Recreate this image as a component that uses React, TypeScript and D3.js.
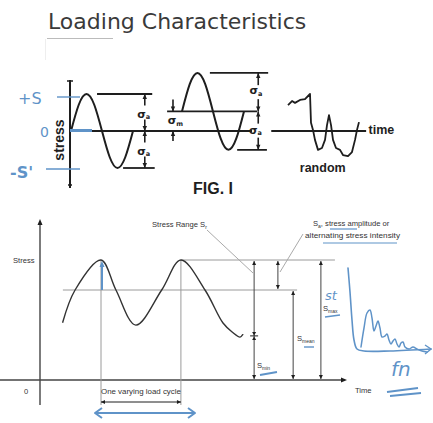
import React from "react";
import * as d3 from "d3";

// ---------------- FIG. 1 (top panel) ----------------
// one idealised load cycle (time in cycles, stress in units of σa)
const cycleTime = [0, 0.125, 0.25, 0.375, 0.5, 0.625, 0.75, 0.875, 1];
const cycleStress = [0, 0.71, 1, 0.71, 0, -0.71, -1, -0.71, 0];
// fully reversed wave and wave with a mean stress
const reversedWave = { start: 0, mean: 0, amp: 1 };
const meanWave = { start: 1.79, mean: 0.53, amp: 1.04 };
// random loading trace
const randomTime = [3.5, 3.565, 3.613, 3.694, 3.774, 3.855, 3.871, 3.903, 3.935, 3.984, 4.048, 4.097, 4.129, 4.161, 4.194, 4.226, 4.274, 4.339, 4.387, 4.468, 4.532, 4.581, 4.613, 4.645];
const randomStress = [0.7, 0.81, 0.76, 0.84, 0.86, 1.0, 0.22, 0.03, -0.24, -0.51, -0.46, -0.24, 0.16, 0.43, 0.16, -0.24, -0.46, -0.51, -0.65, -0.68, -0.57, -0.24, 0.03, 0.24];

// ---------------- bottom panel ----------------
const loadTime = [0.74, 1.15, 2.0, 2.49, 3.14, 3.99, 4.62, 5.41, 6.0, 6.3, 6.56, 6.66];
const loadStress = [1.91, 3, 4, 3, 1.83, 3, 4, 3, 1.9, 1.6, 1.43, 1.53];
const stressMax = 4;
const stressMean = 3;
const stressMinTick = 1.47;
const cycleStartT = 2.0;
const cycleEndT = 4.62;

// hand-drawn blue sketch (bottom right), page units
const sketchAxisX = [348, 350, 352, 354, 357, 364, 390, 431];
const sketchAxisY = [268, 292, 320, 340, 349, 351, 351, 349];
const sketchWiggleX = [361, 364, 367, 370, 372, 374, 376, 378, 380, 382, 385, 387, 389, 391, 393, 395, 397, 399, 401, 403, 405, 409, 413, 417, 422, 427];
const sketchWiggleY = [347, 328, 313, 310, 318, 331, 326, 321, 328, 337, 336, 334, 340, 344, 341, 339, 344, 347, 343, 342, 347, 349, 347, 349, 351, 352];

const INK = "#1e1e1e";
const BLUE = "#5f93c8";
const GRAY = "#444";
const LIGHT = "#9a9a9a";

type Dir = "up" | "down" | "left" | "right";
function tri(x: number, y: number, dir: Dir, w = 2.4, h = 5) {
  switch (dir) {
    case "up": return `${x},${y} ${x - w},${y + h} ${x + w},${y + h}`;
    case "down": return `${x},${y} ${x - w},${y - h} ${x + w},${y - h}`;
    case "left": return `${x},${y} ${x + h},${y - w} ${x + h},${y + w}`;
    default: return `${x},${y} ${x - h},${y - w} ${x - h},${y + w}`;
  }
}

export default function App() {
  // top scales
  const xT = d3.scaleLinear().domain([0, 1]).range([71, 133]);
  const yT = d3.scaleLinear().domain([0, 1]).range([131, 94]);
  const lineT = d3.line<[number, number]>().x(d => xT(d[0])).y(d => yT(d[1])).curve(d3.curveNatural);
  const wavePts = (w: { start: number; mean: number; amp: number }) =>
    cycleTime.map((t, i) => [w.start + t, w.mean + w.amp * cycleStress[i]] as [number, number]);
  const randomLine = d3.line<[number, number]>().x(d => xT(d[0])).y(d => yT(d[1])).curve(d3.curveLinear);
  const randomPts = randomTime.map((t, i) => [t, randomStress[i]] as [number, number]);

  const y0 = yT(0);
  const w1Peak = yT(reversedWave.mean + reversedWave.amp);
  const w1Trough = yT(reversedWave.mean - reversedWave.amp);
  const w2Peak = yT(meanWave.mean + meanWave.amp);
  const w2Mean = yT(meanWave.mean);
  const w2Trough = yT(meanWave.mean - meanWave.amp);

  // bottom scales
  const xB = d3.scaleLinear().domain([0, 10]).range([40, 345]);
  const yB = d3.scaleLinear().domain([0, 4]).range([380, 260]);
  const lineB = d3.line<[number, number]>().x(d => xB(d[0])).y(d => yB(d[1])).curve(d3.curveCatmullRom.alpha(0.5));
  const loadPts = loadTime.map((t, i) => [t, loadStress[i]] as [number, number]);
  const yMax = yB(stressMax), yMean = yB(stressMean), yAxis = yB(0), yTick = yB(stressMinTick);
  const xc1 = xB(cycleStartT), xc2 = xB(cycleEndT);

  const id = d3.scaleLinear().domain([0, 1]).range([0, 1]);
  const sketch = d3.line<[number, number]>().x(d => id(d[0])).y(d => id(d[1])).curve(d3.curveCatmullRom);
  const axisSk = sketchAxisX.map((x, i) => [x, sketchAxisY[i]] as [number, number]);
  const wigSk = sketchWiggleX.map((x, i) => [x, sketchWiggleY[i]] as [number, number]);

  // dimension line with label gap (top panel)
  const dimTop = (x: number, ya: number, yb: number, key: string, gap = 7) => {
    const mid = (ya + yb) / 2;
    return (
      <g key={key}>
        <line x1={x} x2={x} y1={ya} y2={mid - gap} stroke={INK} strokeWidth={1.6} />
        <line x1={x} x2={x} y1={mid + gap} y2={yb} stroke={INK} strokeWidth={1.6} />
        <polygon points={tri(x, ya, "up", 2.2, 5)} fill={INK} />
        <polygon points={tri(x, yb, "down", 2.2, 5)} fill={INK} />
      </g>
    );
  };
  const sigma = (x: number, y: number, sub: string, key: string) => (
    <text key={key} x={x - 1} y={y + 3} textAnchor="middle"
      fontFamily="DejaVu Sans" fontWeight="bold" fontSize={11} fill={INK}>
      σ<tspan fontSize={6.5} dy={1.5}>{sub}</tspan>
    </text>
  );
  const dimB = (x: number, ya: number, yb: number, key: string) => (
    <g key={key}>
      <line x1={x} x2={x} y1={ya} y2={yb} stroke={GRAY} strokeWidth={1} />
      <polygon points={tri(x, ya, "up", 2, 4)} fill={INK} />
      <polygon points={tri(x, yb, "down", 2, 4)} fill={INK} />
    </g>
  );

  const small = { fontFamily: "Liberation Sans", fontSize: 7.6, fill: "#333" } as const;

  return (
    <svg width={433} height={423} style={{ position: "absolute", left: 0, top: 0, background: "#fff" }}>
      {/* title */}
      <text x={48} y={29} fontFamily="DejaVu Sans" fontSize={22} fill="#3a3a3a">Loading Characteristics</text>
      <line x1={47} x2={113} y1={38.5} y2={38.5} stroke="#bbb" strokeWidth={1} />
      <line x1={45.5} x2={45.5} y1={39} y2={60} stroke="#eee" strokeWidth={1} />

      {/* ---------- FIG. 1 ---------- */}
      <line x1={70} x2={70} y1={80} y2={188} stroke={INK} strokeWidth={2} />
      <line x1={67} x2={73} y1={81} y2={81} stroke={INK} strokeWidth={1.5} />
      <line x1={68} x2={72} y1={185} y2={185} stroke={INK} strokeWidth={1.5} />
      <text transform={`translate(64,140) rotate(-90)`} textAnchor="middle" fontFamily="Liberation Sans" fontWeight="bold" fontSize={14} fill={INK}>stress</text>
      <line x1={70} x2={xT(2.92)} y1={y0} y2={y0} stroke={INK} strokeWidth={2} />
      <line x1={xT(3.23)} x2={xT(4.76)} y1={y0} y2={y0} stroke={INK} strokeWidth={2} />
      <text x={xT(4.8)} y={y0} dominantBaseline="middle" fontFamily="Liberation Sans" fontWeight="bold" fontSize={12.5} fill={INK}>time</text>

      <path d={lineT(wavePts(reversedWave)) ?? ""} fill="none" stroke={INK} strokeWidth={2} />
      <path d={lineT(wavePts(meanWave)) ?? ""} fill="none" stroke={INK} strokeWidth={2} />
      <path d={randomLine(randomPts) ?? ""} fill="none" stroke={INK} strokeWidth={1.8} strokeLinejoin="round" />
      <text x={xT(4.06)} y={172} textAnchor="middle" fontFamily="Liberation Sans" fontWeight="bold" fontSize={12.5} fill={INK}>random</text>

      {/* extension lines */}
      <line x1={xT(0.42)} x2={xT(1.31)} y1={w1Peak} y2={w1Peak} stroke={INK} strokeWidth={1.8} />
      <line x1={xT(0.84)} x2={xT(1.35)} y1={w1Trough} y2={w1Trough} stroke={INK} strokeWidth={1.8} />
      <line x1={xT(2.24)} x2={xT(3.18)} y1={w2Peak} y2={w2Peak} stroke={INK} strokeWidth={1.8} />
      <line x1={xT(2.68)} x2={xT(3.16)} y1={w2Trough} y2={w2Trough} stroke={INK} strokeWidth={1.8} />
      <line x1={xT(1.55)} x2={xT(3.0)} y1={w2Mean} y2={w2Mean} stroke={INK} strokeWidth={1.8} />

      {dimTop(xT(1.19), w1Peak, y0, "d1")}
      {dimTop(xT(1.19), y0, w1Trough, "d2")}
      {sigma(xT(1.19), (w1Peak + y0) / 2 + 2, "a", "s1")}
      {sigma(xT(1.19), (y0 + w1Trough) / 2 + 2, "a", "s2")}
      {dimTop(xT(3.02), w2Peak, w2Mean, "d3")}
      {dimTop(xT(3.02), w2Mean, w2Trough, "d4")}
      {sigma(xT(3.0), (w2Peak + w2Mean) / 2 - 1, "a", "s3")}
      {sigma(xT(2.99), (w2Mean + w2Trough) / 2, "a", "s4")}
      {/* σm dimension (arrows from outside) */}
      <line x1={xT(1.645)} x2={xT(1.645)} y1={w2Mean - 12} y2={w2Mean} stroke={INK} strokeWidth={1.6} />
      <polygon points={tri(xT(1.645), w2Mean, "down", 2.2, 5)} fill={INK} />
      <line x1={xT(1.645)} x2={xT(1.645)} y1={y0} y2={y0 + 10} stroke={INK} strokeWidth={1.6} />
      <polygon points={tri(xT(1.645), y0, "up", 2.2, 5)} fill={INK} />
      {sigma(xT(1.7), (w2Mean + y0) / 2, "m", "sm")}

      <text x={193} y={194} fontFamily="Liberation Sans" fontWeight="bold" fontSize={16} fill={INK}>FIG. I</text>

      {/* blue handwriting on FIG.1 */}
      <text x={18} y={104} fontFamily="DejaVu Sans" fontSize={16} fill={BLUE}>+S</text>
      <text x={40} y={137} fontFamily="DejaVu Sans" fontSize={14} fill={BLUE}>0</text>
      <text x={10} y={178} fontFamily="DejaVu Sans" fontSize={16} fill={BLUE} fontWeight="bold">-S'</text>
      <line x1={57} x2={80} y1={w1Peak + 3} y2={w1Peak + 3} stroke={BLUE} strokeWidth={1.4} />
      <line x1={70} x2={92} y1={y0 - 0.5} y2={y0 - 0.5} stroke={BLUE} strokeWidth={3} />
      <line x1={46} x2={80} y1={w1Trough + 1} y2={w1Trough + 1} stroke={BLUE} strokeWidth={1.4} />

      {/* ---------- bottom panel ---------- */}
      <line x1={40} x2={40} y1={222} y2={405} stroke={GRAY} strokeWidth={1.4} />
      <polygon points={tri(40, 219, "up", 2.5, 6)} fill={INK} />
      <line x1={0} x2={342} y1={yAxis} y2={yAxis} stroke={GRAY} strokeWidth={1.4} />
      <polygon points={tri(347, yAxis, "right", 2.5, 6)} fill={INK} />
      <text x={13} y={263} {...small}>Stress</text>
      <text x={24} y={394} {...small}>0</text>
      <text x={355} y={393} {...small}>Time</text>

      <line x1={xB(0.75)} x2={xB(8.43)} y1={yMean} y2={yMean} stroke={LIGHT} strokeWidth={1} />
      <line x1={xc2} x2={xB(9.67)} y1={yMax} y2={yMax} stroke={LIGHT} strokeWidth={1} />
      <line x1={xc1} x2={xc1} y1={yMax} y2={405} stroke={LIGHT} strokeWidth={1} />
      <line x1={xc2} x2={xc2} y1={yMax} y2={405} stroke={LIGHT} strokeWidth={1} />
      <path d={lineB(loadPts) ?? ""} fill="none" stroke="#333" strokeWidth={1.4} />

      {/* one cycle dimension */}
      <line x1={xc1} x2={xc2} y1={402} y2={402} stroke={INK} strokeWidth={1} />
      <polygon points={tri(xc1, 402, "left", 2, 4)} fill={INK} />
      <polygon points={tri(xc2, 402, "right", 2, 4)} fill={INK} />
      <text x={xc1} y={394} {...small} textLength={xc2 - xc1} lengthAdjust="spacingAndGlyphs">One varying load cycle</text>

      {/* stress dimensions */}
      {dimB(xB(7.02), yMax + 1, yAxis - 1, "sr")}
      <line x1={xB(7.02) - 4} x2={xB(7.02) + 4} y1={yTick} y2={yTick} stroke={INK} strokeWidth={1} />
      <polygon points={tri(xB(7.02), yTick - 0.5, "down", 2, 3.5)} fill={INK} />
      <polygon points={tri(xB(7.02), yTick + 0.5, "up", 2, 3.5)} fill={INK} />
      {dimB(xB(7.8), yMax + 1, yMean - 1, "sa")}
      {dimB(xB(8.3), yMean + 1, yAxis - 1, "smean")}
      {dimB(xB(9.21), yMax + 1, yAxis - 1, "smax")}

      <line x1={207} y1={230} x2={253} y2={273} stroke="#aaa" strokeWidth={1} />
      <line x1={303} y1={234} x2={280} y2={272} stroke="#aaa" strokeWidth={1} />

      <text x={152} y={227} {...small}>Stress Range S<tspan fontSize={5} dy={1.5}>r</tspan></text>
      <text x={313} y={226} {...small}>S<tspan fontSize={5} dy={1.5}>a</tspan><tspan dy={-1.5}>, stress amplitude or</tspan></text>
      <text x={305} y={238} {...small} textLength={95} lengthAdjust="spacingAndGlyphs">alternating stress intensity</text>
      <text x={323} y={311} {...small}>S<tspan fontSize={5} dy={1.5}>max</tspan></text>
      <text x={297} y={341} {...small}>S<tspan fontSize={5} dy={1.5}>mean</tspan></text>
      <text x={257} y={368} {...small}>S<tspan fontSize={5} dy={1.5}>min</tspan></text>

      {/* blue annotations bottom */}
      <line x1={xc1 + 1} x2={xc1 + 1} y1={yMean} y2={yMax + 5} stroke={BLUE} strokeWidth={2} />
      <polygon points={tri(xc1 + 1, yMax + 1, "up", 2.5, 6)} fill={BLUE} />
      <line x1={96} x2={194} y1={413} y2={413} stroke={BLUE} strokeWidth={2} />
      <polyline points="102,408 95,413 102,418" fill="none" stroke={BLUE} strokeWidth={2} strokeLinejoin="round" />
      <polyline points="188,408 195,413 188,418" fill="none" stroke={BLUE} strokeWidth={2} strokeLinejoin="round" />

      <line x1={330} x2={357} y1={229} y2={229} stroke={BLUE} strokeWidth={1.2} />
      <line x1={323} x2={397} y1={243} y2={243} stroke={BLUE} strokeWidth={1.2} />
      <line x1={325} x2={340} y1={317} y2={315} stroke={BLUE} strokeWidth={1.6} />
      <line x1={304} x2={314} y1={347} y2={347} stroke={BLUE} strokeWidth={1.4} />
      <line x1={260} x2={277} y1={375} y2={372} stroke={BLUE} strokeWidth={1.8} />
      <line x1={387} x2={418} y1={392} y2={388} stroke={BLUE} strokeWidth={1.8} />
      <line x1={390} x2={421} y1={396} y2={393} stroke={BLUE} strokeWidth={1.8} />

      <text x={325} y={300} fontFamily="DejaVu Sans" fontStyle="italic" fontSize={13} fill={BLUE}>st</text>
      <text x={391} y={376} fontFamily="DejaVu Sans" fontStyle="italic" fontSize={20} fill={BLUE}>fn</text>
      <path d={sketch(axisSk) ?? ""} fill="none" stroke={BLUE} strokeWidth={1.6} strokeLinecap="round" />
      <polyline points="425,345 431,349 425,354" fill="none" stroke={BLUE} strokeWidth={1.4} />
      <path d={sketch(wigSk) ?? ""} fill="none" stroke={BLUE} strokeWidth={1.5} strokeLinecap="round" strokeLinejoin="round" />
    </svg>
  );
}
